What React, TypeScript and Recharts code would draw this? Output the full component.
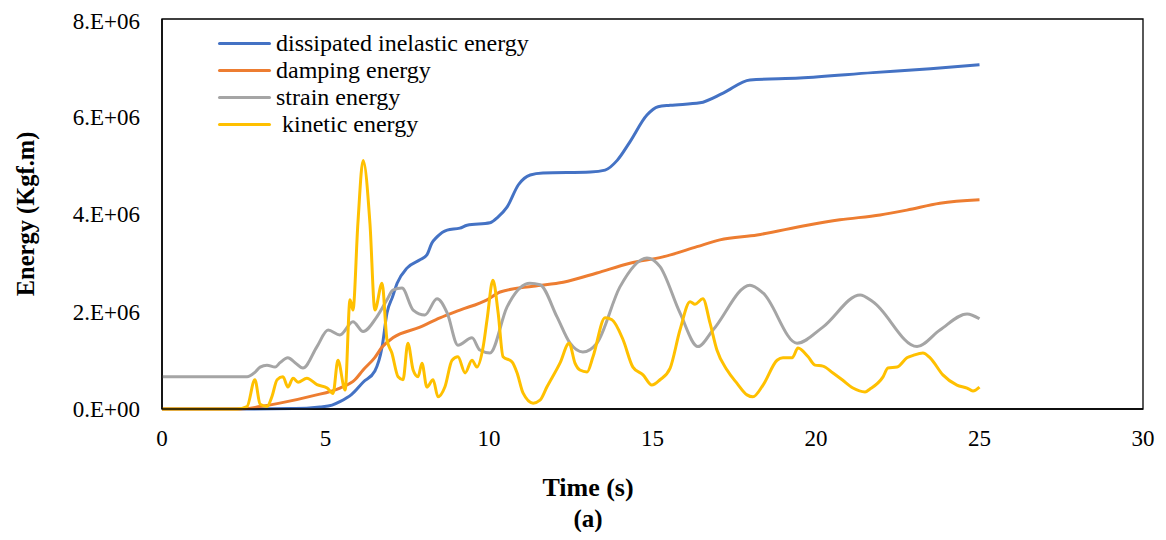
import React from "react";
import { LineChart, Line, XAxis, YAxis, Legend, ReferenceArea } from "recharts";

const UNIT = 1e6;

const xTicks = [0, 5, 10, 15, 20, 25, 30];
const yTicks = [0, 2e6, 4e6, 6e6, 8e6];
const yTickLabels = ["0.E+00", "2.E+06", "4.E+06", "6.E+06", "8.E+06"];

const seriesNames = ["dissipated inelastic energy", "damping energy", "strain energy", " kinetic energy"];
const seriesColors = ["#4472C4", "#ED7D31", "#A5A5A5", "#FFC000"];

// dissipated inelastic energy (x1e6)
const dissipatedTime = [0, 2.5, 4, 4.5, 4.83, 5.2, 5.44, 5.8, 6.15, 6.51, 6.73, 6.88, 7.05, 7.19, 7.49, 7.89, 8.1, 8.25, 8.41, 8.72, 9.11, 9.33, 10.03, 10.28, 10.55, 10.9, 11.26, 11.65, 13.1, 13.55, 13.92, 14.31, 14.83, 15.17, 15.54, 16.45, 17.16, 17.98, 19.5, 21.74, 23.5, 25];
const dissipatedValue = [0, 0, 0.01, 0.02, 0.04, 0.08, 0.15, 0.3, 0.55, 0.78, 1.27, 1.97, 2.3, 2.58, 2.89, 3.06, 3.16, 3.4, 3.53, 3.67, 3.71, 3.77, 3.82, 3.94, 4.14, 4.6, 4.8, 4.84, 4.86, 4.9, 5.1, 5.48, 6.03, 6.2, 6.23, 6.28, 6.48, 6.75, 6.79, 6.9, 6.98, 7.06];

// damping energy (x1e6)
const dampingTime = [0, 2.4, 3.0, 3.6, 4.6, 5.44, 5.9, 6.15, 6.5, 6.73, 7.06, 7.89, 8.5, 9.11, 9.94, 10.34, 11.35, 12.27, 13.3, 14.31, 15.32, 16.36, 17.06, 18.2, 19.73, 20.73, 21.96, 22.78, 23.79, 25];
const dampingValue = [0, 0, 0.05, 0.12, 0.27, 0.43, 0.6, 0.8, 1.05, 1.27, 1.46, 1.68, 1.87, 2.03, 2.24, 2.4, 2.52, 2.6, 2.79, 2.99, 3.12, 3.33, 3.47, 3.57, 3.77, 3.88, 3.98, 4.08, 4.22, 4.29];

// strain energy (x1e6)
const strainTime = [0, 2.6, 2.84, 3.0, 3.21, 3.46, 3.61, 3.85, 4.07, 4.31, 4.74, 5.08, 5.44, 5.84, 6.15, 6.57, 6.88, 7.06, 7.34, 7.68, 8.04, 8.41, 8.72, 9.05, 9.48, 9.72, 10.03, 10.55, 11.25, 11.56, 12.08, 12.48, 12.87, 13.3, 14.0, 14.83, 15.23, 15.84, 16.39, 16.85, 17.98, 18.38, 19.42, 20.21, 21.35, 21.74, 23.09, 23.79, 24.62, 25];
const strainValue = [0.66, 0.66, 0.75, 0.86, 0.9, 0.86, 0.95, 1.05, 0.95, 0.84, 1.28, 1.62, 1.52, 1.79, 1.59, 1.89, 2.24, 2.44, 2.48, 2.03, 1.93, 2.26, 1.97, 1.31, 1.46, 1.21, 1.15, 2.09, 2.58, 2.55, 1.89, 1.35, 1.17, 1.35, 2.5, 3.1, 2.92, 1.97, 1.28, 1.62, 2.54, 2.38, 1.35, 1.68, 2.34, 2.2, 1.28, 1.62, 1.95, 1.85];

// kinetic energy (x1e6)
const kineticTime = [0, 2.29, 2.6, 2.84, 3.0, 3.21, 3.36, 3.52, 3.7, 3.85, 4.01, 4.16, 4.43, 4.74, 5.05, 5.23, 5.38, 5.6, 5.75, 5.84, 5.99, 6.15, 6.36, 6.51, 6.73, 6.88, 7.03, 7.22, 7.37, 7.52, 7.68, 7.83, 7.95, 8.1, 8.29, 8.44, 8.65, 8.87, 9.05, 9.27, 9.48, 9.63, 9.82, 9.94, 10.12, 10.28, 10.43, 10.7, 10.86, 11.04, 11.35, 11.56, 11.77, 12.17, 12.45, 12.63, 12.78, 13.0, 13.18, 13.55, 13.76, 14.1, 14.4, 14.71, 14.98, 15.23, 15.54, 15.84, 16.15, 16.3, 16.54, 16.76, 16.97, 17.28, 17.58, 17.89, 18.07, 18.38, 18.81, 18.99, 19.27, 19.45, 19.76, 19.97, 20.21, 20.52, 20.8, 21.13, 21.5, 21.65, 22.05, 22.2, 22.48, 22.78, 22.97, 23.27, 23.49, 23.88, 24.31, 24.62, 24.8, 25];
const kineticValue = [0, 0, 0.05, 0.6, 0.1, 0.05, 0.25, 0.6, 0.66, 0.45, 0.63, 0.55, 0.63, 0.5, 0.43, 0.32, 1.0, 0.39, 2.24, 2.03, 3.8, 5.1, 3.8, 2.03, 2.58, 1.42, 1.15, 0.66, 0.6, 1.35, 0.8, 0.66, 0.94, 0.45, 0.6, 0.25, 0.45, 1.0, 1.07, 0.74, 1.0, 0.86, 1.27, 1.83, 2.64, 1.97, 1.07, 0.97, 0.74, 0.33, 0.12, 0.18, 0.45, 0.94, 1.35, 0.94, 0.8, 0.76, 1.07, 1.87, 1.83, 1.42, 0.86, 0.7, 0.49, 0.6, 0.84, 1.62, 2.2, 2.15, 2.26, 1.76, 1.21, 0.8, 0.53, 0.29, 0.25, 0.49, 1.0, 1.05, 1.05, 1.25, 1.07, 0.9, 0.88, 0.74, 0.6, 0.43, 0.35, 0.41, 0.66, 0.84, 0.86, 1.05, 1.1, 1.15, 1.05, 0.7, 0.49, 0.43, 0.37, 0.45];

const build = (ts: number[], vs: number[]) => ts.map((t, i) => ({ t, v: vs[i] * UNIT }));

const seriesData = [
  build(dissipatedTime, dissipatedValue),
  build(dampingTime, dampingValue),
  build(strainTime, strainValue),
  build(kineticTime, kineticValue),
];

const FONT = "'Liberation Serif', 'Times New Roman', serif";

const LegendContent = () => (
  <div style={{ fontFamily: FONT, fontSize: 24, color: "#000", lineHeight: "27px" }}>
    {seriesNames.map((name, i) => (
      <div key={i} style={{ display: "flex", alignItems: "center", height: 27, whiteSpace: "pre" }}>
        <div style={{ width: 53, height: 3, background: seriesColors[i], marginRight: 5, borderRadius: 1.5 }} />
        <span>{name}</span>
      </div>
    ))}
  </div>
);

const YTitle = (props: any) => {
  const vb = props.viewBox || { x: 0, y: 0, width: 0, height: 0 };
  const cx = vb.x + 17;
  const cy = vb.y + vb.height / 2;
  return (
    <text x={cx} y={cy} transform={`rotate(-90 ${cx} ${cy})`} textAnchor="middle" dominantBaseline="central"
      fontFamily={FONT} fontWeight="bold" fontSize={24.5} fill="#000">
      Energy (Kgf.m)
    </text>
  );
};

const XTitle = (props: any) => {
  const vb = props.viewBox || { x: 0, y: 0, width: 0, height: 0 };
  const cx = vb.x + 426;
  return (
    <g>
      <text x={cx} y={vb.y + 87} textAnchor="middle" fontFamily={FONT} fontWeight="bold" fontSize={26} fill="#000">
        Time (s)
      </text>
      <text x={cx} y={vb.y + 118} textAnchor="middle" fontFamily={FONT} fontWeight="bold" fontSize={25} fill="#000">
        (a)
      </text>
    </g>
  );
};

export default function App() {
  return (
    <LineChart width={1150} height={524} margin={{ top: 11, right: 15, bottom: 0, left: 0 }}>
      <XAxis
        dataKey="t"
        type="number"
        domain={[0, 30]}
        ticks={xTicks}
        tickLine={false}
        tickSize={6}
        tickMargin={15}
        axisLine={{ stroke: "#000", strokeWidth: 1.5 }}
        tick={{ fontFamily: FONT, fontSize: 23, fill: "#000" }}
        height={123}
        label={<XTitle />}
        allowDataOverflow
      />
      <YAxis
        type="number"
        domain={[0, 8e6]}
        ticks={yTicks}
        tickFormatter={(v: number) => yTickLabels[yTicks.indexOf(v)]}
        tickLine={false}
        tickSize={6}
        tickMargin={16}
        axisLine={{ stroke: "#000", strokeWidth: 1.5 }}
        tick={{ fontFamily: FONT, fontSize: 23, fill: "#000" }}
        width={154}
        label={<YTitle />}
      />
      <ReferenceArea x1={0} x2={30} y1={0} y2={8e6} fill="none" fillOpacity={0} stroke="#000" strokeWidth={1.3} ifOverflow="visible" />
      {seriesData.map((d, i) => (
        <Line
          key={i}
          data={d}
          dataKey="v"
          name={seriesNames[i]}
          type="monotone"
          stroke={seriesColors[i]}
          strokeWidth={3}
          dot={false}
          activeDot={false}
          isAnimationActive={false}
        />
      ))}
      <Legend
        layout="vertical"
        align="center"
        verticalAlign="middle"
        content={<LegendContent />}
        wrapperStyle={{ position: "absolute", left: 210, top: 22, width: "auto" }}
      />
    </LineChart>
  );
}
